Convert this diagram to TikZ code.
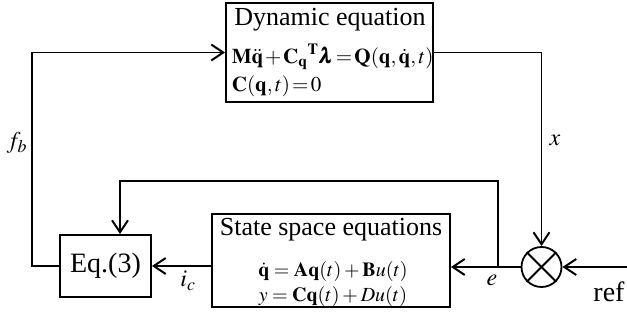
\documentclass[tikz,border=0pt]{standalone}
\usepackage{amsmath}
\usepackage{mathptmx}
\usepackage{bm}
\usepackage{fontspec}
\setmainfont{Liberation Serif}
\usetikzlibrary{arrows.meta}

\newcommand{\tightmath}{\thickmuskip=2mu\medmuskip=1.5mu}

\begin{document}
\begin{tikzpicture}[
    x=1pt, y=-1pt,
    line width=1.8pt,
    block/.style={rectangle, draw, line width=1.8pt, inner sep=0pt},
    head/.style={font=\fontsize{26}{28}\selectfont, inner sep=1pt},
    eqn/.style={font=\fontsize{21}{23}\selectfont\tightmath, inner sep=0pt},
    sig/.style={font=\fontsize{24}{26}\selectfont},
    conn/.style={-{Straight Barb[length=12pt,width=16pt,line width=2pt]}},
]
    \useasboundingbox (0,0) rectangle (627,326);

    % ---------- Blocks ----------
    \node[block, minimum width=207pt, minimum height=99pt] (dyn) at (329.5,52.5) {};
    \node[head] (dyn-title) at (330,20) {Dynamic equation};
    \node[eqn, anchor=west] (dyn-eq1) at (231,57)
        {$\mathbf{M}\ddot{\mathbf{q}}+{\mathbf{C}_{\mathbf{q}}}^{\mathbf{T}}\bm{\lambda}=\mathbf{Q}(\mathbf{q},\dot{\mathbf{q}},t)$};
    \node[eqn, anchor=west] (dyn-eq2) at (231,86) {$\mathbf{C}(\mathbf{q},t)=0$};

    \node[block, minimum width=238pt, minimum height=93pt] (state) at (331,260.5) {};
    \node[head] (state-title) at (331,230) {State space equations};
    \node[eqn, font=\fontsize{20}{22}\selectfont] (state-eq1) at (333,271)
        {$\dot{\mathbf{q}}=\mathbf{A}\mathbf{q}(t)+\mathbf{B}u(t)$};
    \node[eqn, font=\fontsize{20}{22}\selectfont] (state-eq2) at (333,296)
        {$y=\mathbf{C}\mathbf{q}(t)+Du(t)$};

    \node[block, minimum width=91pt, minimum height=62pt,
          font=\fontsize{28}{30}\selectfont] (eq3) at (105.5,266) {Eq.(3)};

    \node[circle, draw, line width=1.8pt, minimum size=40pt, inner sep=0pt] (sum) at (541.5,267) {};
    \draw (sum.north west) -- (sum.south east);
    \draw (sum.north east) -- (sum.south west);

    % ---------- Connectors ----------
    \coordinate (refin) at (627,267);
    \coordinate (split) at (498,267);
    \coordinate (turn) at (498,181);
    \coordinate (fbl) at (32,266);

    \draw[conn] (dyn.east) -| (sum.north);
    \draw[conn] (refin) -- (sum.east);
    \draw[conn] (sum.west) -- (sum.west -| state.east);
    \draw[conn] (split) -- (turn) -| ([xshift=14.5pt]eq3.north);
    \draw[conn] (state.west |- eq3.east) -- (eq3.east);
    \draw[conn] (eq3.west) -- (fbl) |- (dyn.west);

    % ---------- Signal labels ----------
    \node[sig] (lbl-x) at (555,140) {$x$};
    \node[sig] (lbl-fb) at (17,143) {$f_b$};
    \node[sig] (lbl-e) at (492,280) {$e$};
    \node[sig] (lbl-ic) at (188,281) {$i_c$};
    \node[font=\fontsize{28}{30}\selectfont] (lbl-ref) at (609,292) {ref};
\end{tikzpicture}
\end{document}
